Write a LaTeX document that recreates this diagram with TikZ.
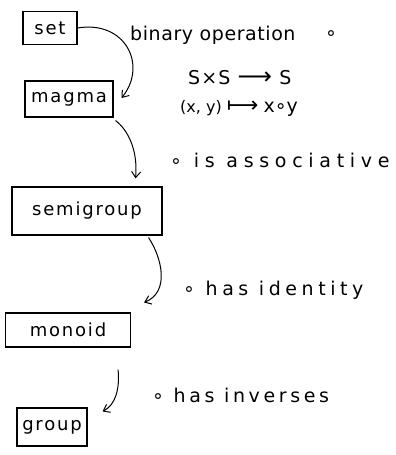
\documentclass[tikz,border=0pt]{standalone}
\usepackage{fontspec}
\setmainfont{DejaVu Sans}
\newfontfamily\boxfont[LetterSpace=10]{DejaVu Sans}
\newfontfamily\lblfont{DejaVu Sans}
\usetikzlibrary{arrows.meta,calc}
\begin{document}
\begin{tikzpicture}[x=1pt,y=-1pt,
  box/.style={draw,line width=1.1pt,inner sep=0pt,font=\boxfont\fontsize{18}{21}\selectfont},
  lbl/.style={anchor=west,inner sep=0pt,font=\lblfont\fontsize{19}{22}\selectfont},
  arr/.style={line width=1pt,-{Straight Barb[length=6pt,width=9pt]}}]
\useasboundingbox (0,0) rectangle (396,455);
\node[box,minimum width=54pt,minimum height=33pt] (set) at (50,28) {set};
\node[box,minimum width=88pt,minimum height=36pt] (magma) at (69,99) {magma};
\node[box,minimum width=150pt,minimum height=48pt] (semi) at (87,211) {semigroup};
\node[box,minimum width=125pt,minimum height=34pt] (monoid) at (68,330) {monoid};
\node[box,minimum width=70pt,minimum height=38pt] (group) at (52,427) {group};

\node[lbl] (bin) at (130,35) {\addfontfeature{LetterSpace=3}binary operation};
\node[lbl] (circ) at (325,35) {∘};
\node[lbl] (map1) at (188,78) {\addfontfeature{LetterSpace=6}S×S {\fontsize{24}{24}\selectfont ⟶} S};
\node[lbl] (map2) at (180,108) {\fontsize{16}{19}\selectfont(x, y) {\fontsize{22}{22}\selectfont ⟼} \fontsize{19}{22}\selectfont x∘y};
\node[lbl] (assoc) at (170,160) {\addfontfeature{LetterSpace=30}∘ is associative};
\node[lbl] (ident) at (183,290) {\addfontfeature{LetterSpace=24}∘ has identity};
\node[lbl] (inv) at (152,395) {\addfontfeature{LetterSpace=19}∘ has inverses};

\draw[arr] (set.east) .. controls (125,20) and (148,65) .. ([shift={(8,-1)}]magma.east);
\draw[arr] ([shift={(2,3)}]magma.south east) .. controls (128,130) and (138,150) .. ([shift={(-27,-8)}]semi.north east);
\draw[arr] ([shift={(-14,2)}]semi.south east) .. controls (162,258) and (170,292) .. ([shift={(13,-10)}]monoid.north east);
\draw[arr] ([shift={(-13,22)}]monoid.south east) .. controls (120,390) and (115,405) .. ([shift={(15,4)}]group.north east);
\end{tikzpicture}
\end{document}
